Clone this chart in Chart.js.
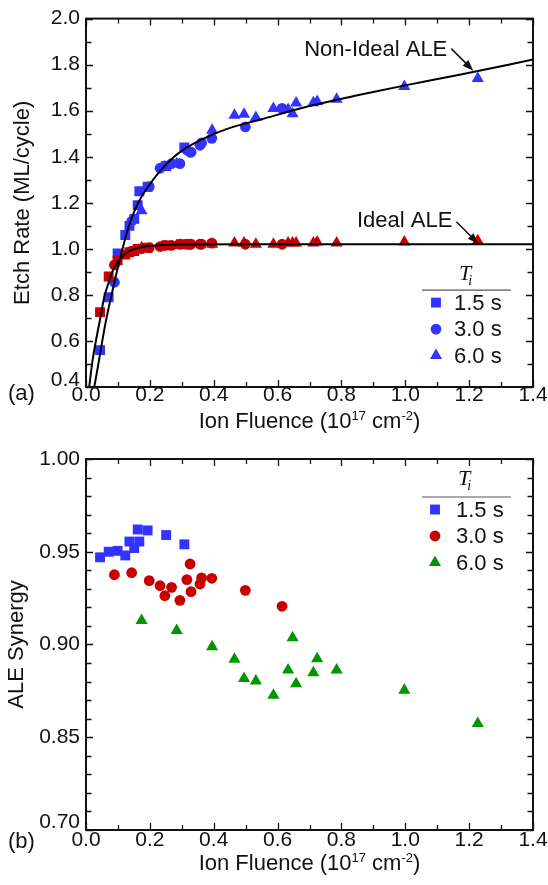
<!DOCTYPE html>
<html>
<head>
<meta charset="utf-8">
<title>ALE etch rate and synergy vs ion fluence</title>
<script src="https://cdn.jsdelivr.net/npm/chart.js@4.4.0/dist/chart.umd.min.js"></script>
<style>
  html, body { margin: 0; padding: 0; background: #fff; }
  .panel { position: absolute; left: 0; width: 548px; }
  #panelA { top: 0; height: 440px; }
  #panelB { top: 440px; height: 445px; }
</style>
</head>
<body>
<div class="panel" id="panelA"><canvas id="etchChart"></canvas></div>
<div class="panel" id="panelB"><canvas id="synergyChart"></canvas></div>
<script>
// Ion fluence (1e17 cm^-2) for each ion exposure time T_i
const fluence15 = [0.044, 0.071, 0.099, 0.123, 0.136, 0.151, 0.162, 0.167, 0.193, 0.251, 0.308];
const fluence30 = [0.089, 0.143, 0.198, 0.232, 0.247, 0.268, 0.294, 0.316, 0.326, 0.329, 0.357, 0.362, 0.394, 0.499, 0.614];
const fluence60 = [0.174, 0.284, 0.395, 0.465, 0.495, 0.532, 0.587, 0.633, 0.647, 0.658, 0.712, 0.724, 0.785, 0.997, 1.227];

// (a) etch rate, ML/cycle
const nonIdeal15 = [0.56, 0.79, 0.98, 1.06, 1.10, 1.13, 1.19, 1.25, 1.27, 1.36, 1.44];
const nonIdeal30 = [0.855, 1.12, 1.27, 1.35, 1.36, 1.37, 1.37, 1.43, 1.42, 1.42, 1.45, 1.46, 1.48, 1.53, 1.61];
const nonIdeal60 = [1.165, 1.37, 1.515, 1.58, 1.585, 1.57, 1.61, 1.605, 1.587, 1.633, 1.635, 1.64, 1.65, 1.705, 1.74];
const ideal15 = [0.725, 0.88, 0.95, 0.975, 0.985, 0.99, 1.0, 1.0, 1.005, 1.015, 1.02];
const ideal30 = [0.93, 0.99, 1.005, 1.01, 1.015, 1.015, 1.02, 1.02, 1.02, 1.02, 1.02, 1.02, 1.025, 1.02, 1.02];
const ideal60 = [1.005, 1.015, 1.02, 1.025, 1.025, 1.02, 1.02, 1.025, 1.025, 1.025, 1.025, 1.03, 1.025, 1.03, 1.035];

// model curves
const fitNonIdealX = [0.026, 0.04, 0.06, 0.08, 0.10, 0.13, 0.16, 0.21, 0.26, 0.31, 0.37, 0.44, 0.55, 0.70, 0.85, 1.0, 1.17, 1.4];
const fitNonIdealY = [0.40, 0.51, 0.67, 0.80, 0.92, 1.08, 1.19, 1.30, 1.38, 1.435, 1.48, 1.52, 1.563, 1.62, 1.667, 1.71, 1.756, 1.822];
const fitIdealX = [0.010, 0.02, 0.031, 0.045, 0.057, 0.07, 0.084, 0.10, 0.115, 0.135, 0.157, 0.19, 0.23, 0.30, 0.5, 1.4];
const fitIdealY = [0.40, 0.51, 0.60, 0.70, 0.79, 0.85, 0.905, 0.945, 0.969, 0.99, 1.002, 1.011, 1.016, 1.019, 1.02, 1.02];

// (b) ALE synergy
const synergy15 = [0.947, 0.950, 0.9505, 0.948, 0.9555, 0.952, 0.962, 0.9555, 0.9615, 0.959, 0.954];
const synergy30 = [0.9376, 0.9387, 0.9344, 0.9317, 0.9263, 0.9308, 0.9238, 0.935, 0.9434, 0.9285, 0.9326, 0.9359, 0.9357, 0.9292, 0.9206];
const synergy60 = [0.913, 0.9075, 0.8988, 0.892, 0.8817, 0.8803, 0.8726, 0.8862, 0.9036, 0.8789, 0.8848, 0.8923, 0.8862, 0.8753, 0.8574];

const tiLabels = ['1.5 s', '3.0 s', '6.0 s'];
const fluenceTicks = [0, 0.2, 0.4, 0.6, 0.8, 1.0, 1.2, 1.4];
const fluenceTickLabels = ['0.0', '0.2', '0.4', '0.6', '0.8', '1.0', '1.2', '1.4'];
const etchTicks = [0.4, 0.6, 0.8, 1.0, 1.2, 1.4, 1.6, 1.8, 2.0];
const etchTickLabels = ['0.4', '0.6', '0.8', '1.0', '1.2', '1.4', '1.6', '1.8', '2.0'];
const synergyTicks = [0.80, 0.85, 0.90, 0.95, 1.00];
const synergyTickLabels = ['0.70', '0.85', '0.90', '0.95', '1.00'];

const BLUE = '#3333ff';
const RED = '#c80000';
const GREEN = '#009600';
const SANS = '"Liberation Sans", Arial, sans-serif';
const SERIF = '"Liberation Serif", "Times New Roman", serif';

Chart.defaults.font.family = SANS;
Chart.defaults.color = '#111';

function pts(xs, ys) {
  return xs.map((x, i) => ({ x: x, y: ys[i] }));
}

function markers(label, xs, ys, color, style, radius, inLegend) {
  return {
    label: label,
    data: pts(xs, ys),
    pointStyle: style,
    pointRadius: radius,
    pointBackgroundColor: color,
    pointBorderColor: color,
    pointBorderWidth: 0,
    inLegend: inLegend
  };
}

function fitLine(label, xs, ys) {
  return {
    label: label,
    data: pts(xs, ys),
    showLine: true,
    borderColor: '#000',
    borderWidth: 2,
    pointRadius: 0,
    cubicInterpolationMode: 'monotone'
  };
}

function drawArrowHead(ctx, x0, y0, x1, y1) {
  const a = Math.atan2(y1 - y0, x1 - x0);
  ctx.beginPath();
  ctx.moveTo(x1, y1);
  ctx.lineTo(x1 - 11 * Math.cos(a) + 4 * Math.sin(a), y1 - 11 * Math.sin(a) - 4 * Math.cos(a));
  ctx.lineTo(x1 - 11 * Math.cos(a) - 4 * Math.sin(a), y1 - 11 * Math.sin(a) + 4 * Math.cos(a));
  ctx.closePath();
  ctx.fill();
}

// text with superscript pieces, centred on cx
function drawRich(ctx, parts, cx, baseline, size) {
  const supSize = Math.round(size * 0.6);
  let total = 0;
  parts.forEach(p => {
    ctx.font = (p[1] ? supSize : size) + 'px ' + SANS;
    total += ctx.measureText(p[0]).width;
  });
  let x = cx - total / 2;
  ctx.textAlign = 'left';
  ctx.textBaseline = 'alphabetic';
  parts.forEach(p => {
    ctx.font = (p[1] ? supSize : size) + 'px ' + SANS;
    ctx.fillText(p[0], x, p[1] ? baseline - size * 0.36 : baseline);
    x += ctx.measureText(p[0]).width;
  });
}

// frame, inward ticks on all sides, legend, notes and x title
const framePlugin = {
  id: 'frame',
  beforeDraw(chart, args, o) {
    // nudge the lowest y label up so it clears the x labels
    const ys = chart.scales.y;
    const items = ys.getLabelItems ? ys.getLabelItems(chart.chartArea) : null;
    if (items && items.length && !items[0].lifted) {
      items[0].options.translation[1] -= o.lowLabelLift;
      items[0].lifted = true;
    }
  },
  afterDraw(chart, args, o) {
    const ctx = chart.ctx;
    const { left, right, top, bottom } = chart.chartArea;
    const xs = chart.scales.x, ys = chart.scales.y;
    ctx.save();
    ctx.strokeStyle = '#111';
    ctx.fillStyle = '#111';

    ctx.lineWidth = 1.3;
    const eps = 1e-6;
    for (let v = xs.min; v <= xs.max + eps; v += o.xMinor) {
      const major = o.xMajor.some(t => Math.abs(t - v) < eps);
      const len = major ? 7 : 5;
      const px = Math.round(xs.getPixelForValue(v)) + 0.5;
      ctx.beginPath();
      ctx.moveTo(px, bottom); ctx.lineTo(px, bottom - len);
      ctx.moveTo(px, top); ctx.lineTo(px, top + len);
      ctx.stroke();
    }
    for (let v = ys.min; v <= ys.max + eps; v += o.yMinor) {
      const major = o.yMajor.some(t => Math.abs(t - v) < eps);
      const len = major ? 7 : 5.5;
      const py = Math.round(ys.getPixelForValue(v)) + 0.5;
      ctx.beginPath();
      ctx.moveTo(left, py); ctx.lineTo(left + len, py);
      ctx.moveTo(right, py); ctx.lineTo(right - len, py);
      ctx.stroke();
    }
    ctx.lineWidth = 2;
    ctx.strokeRect(left, top, right - left, bottom - top);

    // x axis title
    drawRich(ctx, [['Ion Fluence (10', false], ['17', true], [' cm', false], ['-2', true], [')', false]],
      (left + right) / 2, bottom + o.titleDy, 22);

    // panel tag
    ctx.font = '22px ' + SANS;
    ctx.textAlign = 'left';
    ctx.textBaseline = 'middle';
    ctx.fillText(o.tag, 8, bottom + o.tagDy);

    // legend, positioned from the top of the plot frame
    const lg = o.legend;
    ctx.font = 'italic 22px ' + SERIF;
    ctx.textBaseline = 'alphabetic';
    ctx.fillText('T', lg.titleX, top + lg.titleY);
    const tw = ctx.measureText('T').width;
    ctx.font = 'italic 14px ' + SERIF;
    ctx.fillText('i', lg.titleX + tw - 3, top + lg.titleY + 5);
    ctx.lineWidth = 1.2;
    ctx.strokeStyle = '#555';
    ctx.beginPath();
    ctx.moveTo(lg.lineX0, top + lg.lineY); ctx.lineTo(lg.lineX1, top + lg.lineY);
    ctx.stroke();
    const items = chart.data.datasets.filter(d => d.inLegend);
    items.forEach((d, i) => {
      const y = top + lg.firstY + i * lg.gap;
      ctx.fillStyle = d.pointBackgroundColor;
      Chart.helpers.drawPoint(ctx, { pointStyle: d.pointStyle, radius: d.pointRadius, rotation: 0, borderWidth: 0 }, lg.markX, y);
      ctx.fillStyle = '#111';
      ctx.font = '22px ' + SANS;
      ctx.textAlign = 'left';
      ctx.textBaseline = 'middle';
      ctx.fillText(d.label, lg.textX, y + 1);
    });

    // labelled arrows
    (o.notes || []).forEach(n => {
      const tx = xs.getPixelForValue(n.x), ty = ys.getPixelForValue(n.y);
      const sx = tx - 22, sy = ty - 22;
      ctx.strokeStyle = '#111';
      ctx.fillStyle = '#111';
      ctx.lineWidth = 1.5;
      ctx.beginPath();
      ctx.moveTo(sx, sy); ctx.lineTo(tx - 4, ty - 4);
      ctx.stroke();
      drawArrowHead(ctx, sx, sy, tx, ty);
      ctx.font = '22px ' + SANS;
      ctx.textAlign = 'right';
      ctx.textBaseline = 'middle';
      ctx.fillText(n.text, sx - 4, sy + n.textDy);
    });
    ctx.restore();
  }
};

function axisX(height, pad) {
  return {
    type: 'linear',
    min: 0,
    max: 1.4,
    afterBuildTicks: s => { s.ticks = fluenceTicks.map(v => ({ value: v })); },
    afterFit: s => { s.height = height; },
    ticks: {
      autoSkip: false,
      maxRotation: 0,
      padding: pad,
      font: { size: 21 },
      callback: (v, i) => fluenceTickLabels[i]
    },
    grid: { display: false, drawTicks: false },
    border: { display: false }
  };
}

function axisY(min, max, ticks, labels, title, titlePad, width) {
  return {
    type: 'linear',
    min: min,
    max: max,
    afterBuildTicks: s => { s.ticks = ticks.map(v => ({ value: v })); },
    afterFit: s => { s.width = width; },
    ticks: {
      autoSkip: false,
      padding: 6,
      font: { size: 21 },
      callback: (v, i) => labels[i]
    },
    grid: { display: false, drawTicks: false },
    border: { display: false },
    title: { display: true, text: title, font: { size: 22 }, padding: { top: titlePad } }
  };
}

function initCharts() {
  // (a) etch rate
  new Chart(document.getElementById('etchChart').getContext('2d'), {
    type: 'scatter',
    data: {
      datasets: [
        fitLine('Non-Ideal fit', fitNonIdealX, fitNonIdealY),
        fitLine('Ideal fit', fitIdealX, fitIdealY),
        markers('Ideal 1.5 s', fluence15, ideal15, RED, 'rect', 7, false),
        markers('Ideal 3.0 s', fluence30, ideal30, RED, 'circle', 5.4, false),
        markers('Ideal 6.0 s', fluence60, ideal60, RED, 'triangle', 7, false),
        markers(tiLabels[0], fluence15, nonIdeal15, BLUE, 'rect', 7, true),
        markers(tiLabels[1], fluence30, nonIdeal30, BLUE, 'circle', 5.4, true),
        markers(tiLabels[2], fluence60, nonIdeal60, BLUE, 'triangle', 7, true)
      ]
    },
    options: {
      responsive: true,
      maintainAspectRatio: false,
      animation: false,
      devicePixelRatio: 1,
      events: [],
      layout: { padding: { top: 16, right: 15, left: 0, bottom: 0 } },
      scales: {
        x: axisX(53, -4),
        y: axisY(0.4, 2.0, etchTicks, etchTickLabels, 'Etch Rate (ML/cycle)', 10, 86)
      },
      plugins: {
        legend: { display: false },
        tooltip: { enabled: false },
        frame: {
          xMinor: 0.1, yMinor: 0.1, xMajor: fluenceTicks, yMajor: etchTicks,
          tag: '(a)', tagDy: 7, titleDy: 41, lowLabelLift: 7,
          legend: { titleX: 459, titleY: 261, lineX0: 422, lineX1: 511, lineY: 271.5,
                    markX: 436, textX: 454, firstY: 284, gap: 26.5 },
          notes: [
            { text: 'Non-Ideal ALE', x: 1.213, y: 1.774, textDy: 1 },
            { text: 'Ideal ALE', x: 1.229, y: 1.022, textDy: -1 }
          ]
        }
      }
    },
    plugins: [framePlugin]
  });

  // (b) ALE synergy
  new Chart(document.getElementById('synergyChart').getContext('2d'), {
    type: 'scatter',
    data: {
      datasets: [
        markers(tiLabels[0], fluence15, synergy15, BLUE, 'rect', 7, true),
        markers(tiLabels[1], fluence30, synergy30, RED, 'circle', 5.4, true),
        markers(tiLabels[2], fluence60, synergy60, GREEN, 'triangle', 7, true)
      ]
    },
    options: {
      responsive: true,
      maintainAspectRatio: false,
      animation: false,
      devicePixelRatio: 1,
      events: [],
      layout: { padding: { top: 19, right: 15, left: 0, bottom: 0 } },
      scales: {
        x: axisX(55, -2),
        y: axisY(0.80, 1.00, synergyTicks, synergyTickLabels, 'ALE Synergy', 4, 86)
      },
      plugins: {
        legend: { display: false },
        tooltip: { enabled: false },
        frame: {
          xMinor: 0.1, yMinor: 0.01, xMajor: fluenceTicks, yMajor: synergyTicks,
          tag: '(b)', tagDy: 12, titleDy: 40, lowLabelLift: 8,
          legend: { titleX: 458, titleY: 26, lineX0: 422, lineX1: 511, lineY: 38,
                    markX: 435, textX: 456, firstY: 50.5, gap: 26.5 }
        }
      }
    },
    plugins: [framePlugin]
  });
}

document.addEventListener('DOMContentLoaded', initCharts);
</script>
</body>
</html>
